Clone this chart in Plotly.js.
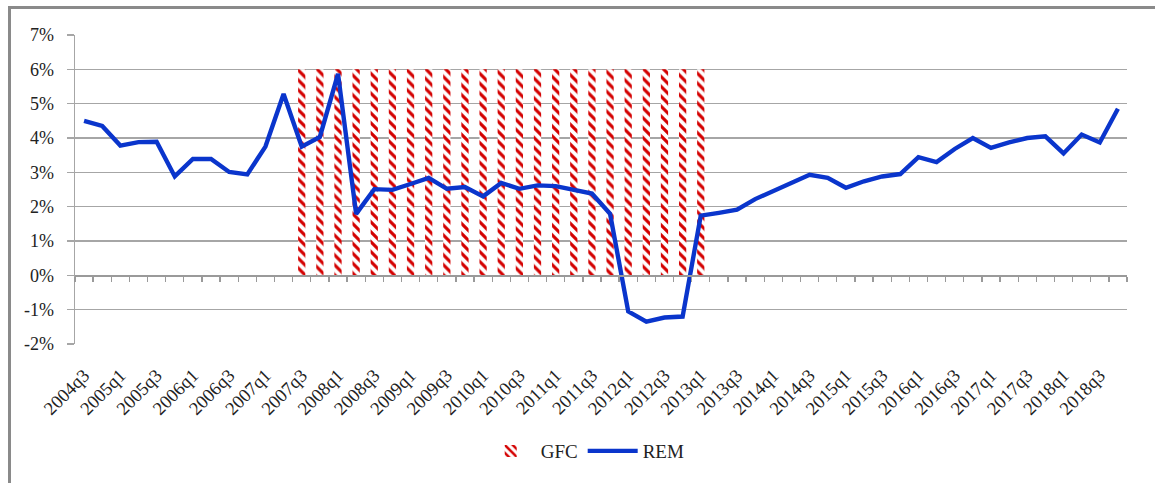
<!DOCTYPE html>
<html>
<head>
<meta charset="utf-8">
<script src="https://cdn.plot.ly/plotly-3.0.1.min.js"></script>
<style>
  html, body { margin: 0; padding: 0; background: #fff; overflow: hidden; }
  #chart { width: 1155px; height: 483px; }
  #frame { position: absolute; left: 8px; top: 6px; width: 1400px; height: 900px;
           border: 3px solid #8a8a8a; pointer-events: none; box-sizing: border-box; }
</style>
</head>
<body>
<div id="chart"></div>
<div id="frame"></div>
<script>
// Quarters 2004q3 .. 2018q4
const quarters = [
  "2004q3","2004q4",
  "2005q1","2005q2","2005q3","2005q4",
  "2006q1","2006q2","2006q3","2006q4",
  "2007q1","2007q2","2007q3","2007q4",
  "2008q1","2008q2","2008q3","2008q4",
  "2009q1","2009q2","2009q3","2009q4",
  "2010q1","2010q2","2010q3","2010q4",
  "2011q1","2011q2","2011q3","2011q4",
  "2012q1","2012q2","2012q3","2012q4",
  "2013q1","2013q2","2013q3","2013q4",
  "2014q1","2014q2","2014q3","2014q4",
  "2015q1","2015q2","2015q3","2015q4",
  "2016q1","2016q2","2016q3","2016q4",
  "2017q1","2017q2","2017q3","2017q4",
  "2018q1","2018q2","2018q3","2018q4"
];

// REM series (%)
const rem = [
  4.50, 4.35,
  3.78, 3.88, 3.89, 2.88,
  3.39, 3.39, 3.01, 2.94,
  3.75, 5.28, 3.75, 4.03,
  5.87, 1.79, 2.51, 2.49,
  2.66, 2.84, 2.52, 2.57,
  2.30, 2.69, 2.52, 2.62,
  2.60, 2.48, 2.38, 1.79,
  -1.05, -1.35, -1.23, -1.20,
  1.74, 1.82, 1.91, 2.22,
  2.46, 2.67, 2.93, 2.84,
  2.55, 2.74, 2.88, 2.95,
  3.44, 3.30, 3.68, 4.00,
  3.71, 3.87, 4.00, 4.05,
  3.55, 4.10, 3.87, 4.85
];

// GFC shaded period (2007q3 .. 2013q1), height 6%
const gfcQuarters = [
  "2007q3","2007q4","2008q1","2008q2","2008q3","2008q4",
  "2009q1","2009q2","2009q3","2009q4","2010q1","2010q2",
  "2010q3","2010q4","2011q1","2011q2","2011q3","2011q4",
  "2012q1","2012q2","2012q3","2012q4","2013q1"
];
const gfcLevel = 6;

// Axis tick labels
const xTickLabels = ["2004q3","2005q1","2005q3","2006q1","2006q3","2007q1","2007q3",
  "2008q1","2008q3","2009q1","2009q3","2010q1","2010q3","2011q1","2011q3","2012q1",
  "2012q3","2013q1","2013q3","2014q1","2014q3","2015q1","2015q3","2016q1","2016q3",
  "2017q1","2017q3","2018q1","2018q3"];
const yTickVals = [-2, -1, 0, 1, 2, 3, 4, 5, 6, 7];
const yTickText = ["-2%","-1%","0%","1%","2%","3%","4%","5%","6%","7%"];

const idx = q => quarters.indexOf(q);
const xRem = quarters.map((q, i) => i);
const xGfc = gfcQuarters.map(idx);
const yGfc = gfcQuarters.map(() => gfcLevel);
const xTickPos = xTickLabels.map(idx);
const boundaries = quarters.map((q, i) => i - 0.5).concat([quarters.length - 0.5]);

const serif = "'Liberation Serif', 'Times New Roman', serif";

const traces = [
  {
    type: "bar", name: "GFC", x: xGfc, y: yGfc, width: 0.4,
    marker: { color: "#ffffff", line: { width: 0 },
      pattern: { shape: "\\", fgcolor: "#d40000", bgcolor: "#ffffff", size: 7, solidity: 0.45 } },
    hoverinfo: "skip"
  },
  {
    type: "scatter", mode: "lines", name: "REM", x: xRem, y: rem,
    line: { color: "#0a35cc", width: 4.4 }
  }
];

const rng = [-0.5, quarters.length - 0.5];
const layout = {
  width: 1155, height: 483,
  margin: { l: 75, r: 28, t: 35, b: 139 },
  paper_bgcolor: "#ffffff", plot_bgcolor: "#ffffff",
  font: { family: serif, size: 18, color: "#222" },
  showlegend: true,
  legend: { orientation: "h", x: 0.485, xanchor: "center", y: -0.285, yanchor: "top",
            itemwidth: 50,
            font: { family: serif, size: 19, color: "#222" }, traceorder: "normal" },
  bargap: 0.6,
  xaxis: {
    range: rng, tickmode: "array", tickvals: xTickPos, ticktext: xTickLabels,
    tickangle: -45, ticks: "", showgrid: false, zeroline: false, showline: false,
    ticklabelstandoff: 16,
    tickfont: { family: serif, size: 18.5, color: "#222" }, fixedrange: true
  },
  xaxis2: {
    overlaying: "x", anchor: "free", position: 2/9, side: "bottom",
    range: rng, tickmode: "array", tickvals: boundaries, ticks: "outside", ticklen: 5,
    tickcolor: "#9a9a9a", tickwidth: 1.3, showticklabels: false, showgrid: false,
    zeroline: false, showline: true, linecolor: "#9a9a9a", linewidth: 1.5
  },
  yaxis: {
    range: [-2, 7], tickmode: "array", tickvals: yTickVals, ticktext: yTickText,
    showgrid: true, gridcolor: "#a6a6a6", gridwidth: 1.5, zeroline: false,
    showline: true, linecolor: "#a6a6a6", linewidth: 1.5,
    ticks: "outside", ticklen: 7, tickcolor: "#a6a6a6", tickwidth: 1.5,
    ticklabelstandoff: 9,
    tickfont: { family: serif, size: 18, color: "#222" }, fixedrange: true
  }
};

// helper trace so the zero-line axis (x2) is drawn
traces.push({ type: "scatter", x: [0], y: [0], xaxis: "x2", mode: "markers",
  marker: { opacity: 0 }, showlegend: false, hoverinfo: "skip" });

Plotly.newPlot("chart", traces, layout, { displayModeBar: false, staticPlot: true });
</script>
</body>
</html>
